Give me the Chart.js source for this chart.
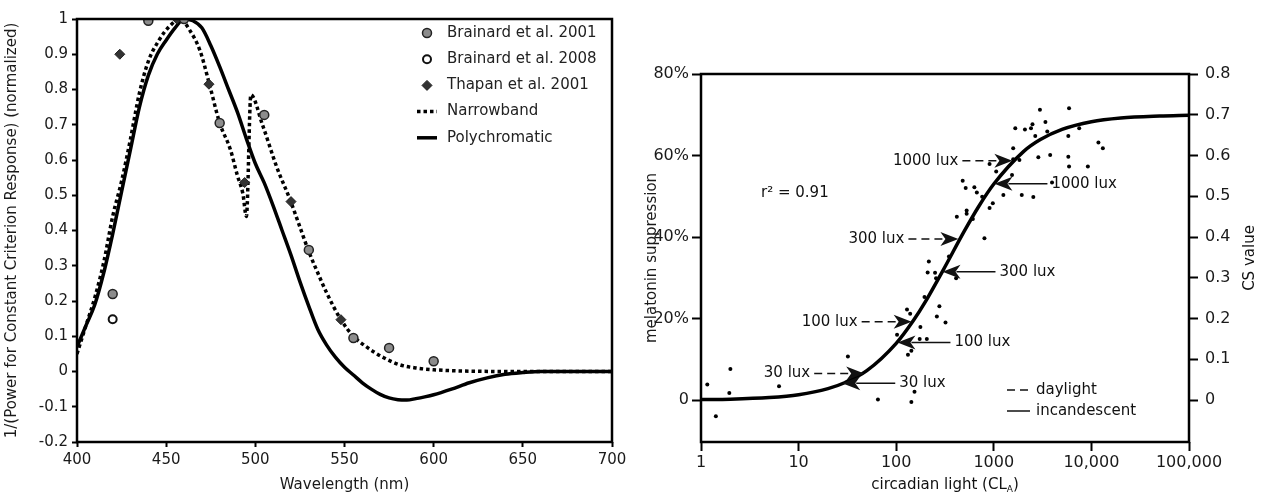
<!DOCTYPE html>
<html>
<head>
<meta charset="utf-8">
<script src="https://cdn.jsdelivr.net/npm/chart.js@4.4.0/dist/chart.umd.min.js"></script>
<style>
  body { margin: 0; background: #fff; width: 1264px; height: 494px; overflow: hidden; position: relative; }
  canvas { position: absolute; top: 0; }
  #left { left: 0; }
  #right { left: 632px; }
</style>
</head>
<body>
<canvas id="left" width="632" height="494"></canvas>
<canvas id="right" width="632" height="494"></canvas>
<script>
// ---------- left panel: action spectrum ----------
const wavelengthTicks = [400, 450, 500, 550, 600, 650, 700];

const polyWl = [400,405,410,415,420,425,430,435,440,445,450,455,460,465,470,475,480,485,490,495,500,505,510,515,520,525,530,535,540,545,550,555,560,565,570,575,580,585,590,595,600,610,620,630,640,650,660,680,700];
const polyVal = [0.07,0.13,0.19,0.28,0.39,0.51,0.63,0.75,0.84,0.90,0.94,0.975,1.0,0.995,0.975,0.925,0.865,0.80,0.735,0.66,0.59,0.535,0.47,0.40,0.33,0.255,0.185,0.12,0.075,0.04,0.012,-0.01,-0.032,-0.05,-0.065,-0.075,-0.08,-0.081,-0.077,-0.072,-0.066,-0.05,-0.032,-0.018,-0.008,-0.003,0,0,0];

const nbWl = [400,405,410,415,420,425,430,435,440,446,452,458,463,469,474,480,486,490,493,495,497.5,504,512,519.5,525,530,535,540,548,555,562,572,581,590,600,620,650,700];
const nbVal = [0.05,0.13,0.21,0.31,0.44,0.54,0.66,0.79,0.88,0.94,0.98,1.0,0.97,0.91,0.82,0.705,0.63,0.555,0.505,0.44,0.785,0.70,0.58,0.487,0.41,0.34,0.28,0.223,0.147,0.10,0.071,0.039,0.019,0.01,0.005,0.001,0,0];

const brainard01Wl = [420, 440, 460, 480, 505, 530, 555, 575, 600];
const brainard01Val = [0.22, 0.995, 1.0, 0.705, 0.728, 0.345, 0.095, 0.067, 0.029];
const brainard08Wl = [420];
const brainard08Val = [0.148];
const thapanWl = [424, 456, 474, 494, 520, 548];
const thapanVal = [0.90, 1.0, 0.815, 0.536, 0.482, 0.147];

// ---------- right panel: CS model ----------
const clTicks = [1, 10, 100, 1000, 10000, 100000];
const clTickLabels = ['1', '10', '100', '1000', '10,000', '100,000'];
const pctTicks = [0, 20, 40, 60, 80];
const csTicks = [0, 0.1, 0.2, 0.3, 0.4, 0.5, 0.6, 0.7, 0.8];

const fitCL = [1, 2, 5, 10, 20, 30, 50, 100, 150, 200, 300, 500, 700, 1000, 2000, 3000, 5000, 10000, 20000, 50000, 100000];
const fitPct = [0.1, 0.2, 0.6, 1.3, 2.8, 4.3, 7.2, 13.9, 19.5, 24.2, 31.7, 41.5, 47.5, 53.0, 60.9, 63.9, 66.4, 68.3, 69.2, 69.7, 69.9];

const obsCL = [1.16,2.0,1.95,1.42,6.3,32,65,143,154,132,143,174,206,102,177,320,261,277,129,139,195,210,250,216,256,411,347,802,418,527,527,610,905,977,480,515,632,670,760,905,1058,1537,1253,1935,2540,1580,1580,1830,2860,3780,2660,3530,3380,1660,2085,2405,2490,2970,5900,5800,5800,5900,9200,7500,3950,11800,13100];
const obsPct = [3.8,7.6,1.7,-4.0,3.4,10.7,0.1,-0.5,2.0,11.1,12.1,15,15,16,17.9,19,20.5,23,22.2,21.2,25.3,31.3,31.2,34,29.9,29.9,35.2,39.7,45,46.5,45.7,44.4,47.1,48.3,53.8,52,52.2,50.9,49.9,57.9,56.1,55.2,50.3,50.3,49.8,61.8,59.1,58.9,59.6,60.1,64.8,65.9,68.2,66.7,66.4,66.7,67.7,71.2,71.6,64.8,59.7,57.3,57.3,66.7,53.4,63.2,61.8];

const luxLabels = ['30 lux', '100 lux', '300 lux', '1000 lux'];
const dayTipCL = [47, 144, 434, 1550];
const dayTipPct = [6.5, 19.2, 39.5, 58.7];
const incTipCL = [28, 103, 298, 1015];
const incTipPct = [4.1, 14.1, 31.5, 53.1];

Chart.defaults.font.family = "'DejaVu Sans', Verdana, sans-serif";
Chart.defaults.color = '#1a1a1a';
Chart.defaults.animation = false;

const pts = (xs, ys) => xs.map((x, i) => ({ x: x, y: ys[i] }));
const fmt1 = v => (Math.abs(v) < 1e-9 ? '0' : String(Number(v.toFixed(1))));

const boxPlugin = {
    id: 'box',
    afterDraw(chart) {
        const { ctx, chartArea: a } = chart;
        ctx.save();
        ctx.strokeStyle = '#000';
        ctx.lineWidth = 2.5;
        ctx.strokeRect(a.left, a.top, a.right - a.left, a.bottom - a.top);
        ctx.restore();
    }
};

const leftLegend = {
    id: 'leftLegend',
    afterDraw(chart) {
        const { ctx, chartArea: a } = chart;
        const mx = a.right - 185, tx = a.right - 165;
        ctx.save();
        ctx.font = "15px 'DejaVu Sans'";
        ctx.textBaseline = 'middle';
        chart.data.datasets.forEach((ds, i) => {
            const y = a.top + 14 + i * 26.2;
            if (ds.showLine === false) {
                ctx.fillStyle = ds.pointBackgroundColor;
                ctx.strokeStyle = ds.pointBorderColor;
                ctx.lineWidth = ds.pointBorderWidth;
                Chart.helpers.drawPoint(ctx, { pointStyle: ds.pointStyle, radius: ds.pointRadius, rotation: 0, borderWidth: ds.pointBorderWidth }, mx, y);
            } else {
                ctx.strokeStyle = ds.borderColor;
                ctx.lineWidth = ds.borderWidth;
                ctx.setLineDash(ds.borderDash || []);
                ctx.beginPath();
                ctx.moveTo(mx - 10, y);
                ctx.lineTo(mx + 10, y);
                ctx.stroke();
                ctx.setLineDash([]);
            }
            ctx.fillStyle = '#222';
            ctx.fillText(ds.label, tx, y);
        });
        ctx.restore();
    }
};

new Chart(document.getElementById('left'), {
    type: 'line',
    data: {
        datasets: [
            { label: 'Brainard et al. 2001', data: pts(brainard01Wl, brainard01Val), showLine: false, pointStyle: 'circle', pointRadius: 4.5, pointBackgroundColor: '#8c8c8c', pointBorderColor: '#222', pointBorderWidth: 1.5 },
            { label: 'Brainard et al. 2008', data: pts(brainard08Wl, brainard08Val), showLine: false, pointStyle: 'circle', pointRadius: 4, pointBackgroundColor: '#fff', pointBorderColor: '#111', pointBorderWidth: 2 },
            { label: 'Thapan et al. 2001', data: pts(thapanWl, thapanVal), showLine: false, pointStyle: 'rectRot', pointRadius: 5, pointBackgroundColor: '#333', pointBorderColor: '#222', pointBorderWidth: 1 },
            { label: 'Narrowband', data: pts(nbWl, nbVal), borderColor: '#000', borderWidth: 3.5, borderDash: [3.5, 3], pointRadius: 0, cubicInterpolationMode: 'monotone' },
            { label: 'Polychromatic', data: pts(polyWl, polyVal), borderColor: '#000', borderWidth: 3.5, pointRadius: 0, cubicInterpolationMode: 'monotone' }
        ]
    },
    options: {
        responsive: false,
        devicePixelRatio: 1,
        layout: { padding: { top: 19, right: 20, left: 0, bottom: 0 } },
        plugins: { legend: { display: false }, tooltip: { enabled: false } },
        scales: {
            x: {
                type: 'linear', min: 400, max: 700,
                afterBuildTicks: s => { s.ticks = wavelengthTicks.map(v => ({ value: v })); },
                afterFit: s => { s.height = 52; },
                grid: { drawOnChartArea: false, tickLength: 5, tickWidth: 2, tickColor: '#000' },
                border: { display: false },
                ticks: { font: { size: 15 }, padding: 4, maxRotation: 0, autoSkip: false },
                title: { display: true, text: 'Wavelength (nm)', font: { size: 15 }, padding: { top: 0, bottom: 0 } }
            },
            y: {
                min: -0.2, max: 1,
                ticks: { stepSize: 0.1, font: { size: 15 }, padding: 4, autoSkip: false, callback: v => fmt1(v) },
                afterFit: s => { s.width = 77; },
                grid: { drawOnChartArea: false, tickLength: 5, tickWidth: 2, tickColor: '#000' },
                border: { display: false },
                title: { display: true, text: '1/(Power for Constant Criterion Response) (normalized)', font: { size: 15 }, padding: { top: 3, bottom: 0 } }
            }
        }
    },
    plugins: [boxPlugin, leftLegend]
});

function arrowHead(ctx, tx, ty, dir) {
    const L = 18, W = 7, N = 5;
    ctx.beginPath();
    ctx.moveTo(tx, ty);
    ctx.lineTo(tx - dir * L, ty - W);
    ctx.lineTo(tx - dir * (L - N), ty);
    ctx.lineTo(tx - dir * L, ty + W);
    ctx.closePath();
    ctx.fill();
}

const rightNotes = {
    id: 'rightNotes',
    afterDraw(chart) {
        const { ctx, chartArea: a } = chart;
        const sx = chart.scales.x, sy = chart.scales.y;
        ctx.save();
        ctx.fillStyle = '#111';
        ctx.strokeStyle = '#111';
        ctx.lineWidth = 1.5;
        ctx.font = "15px 'DejaVu Sans'";
        ctx.textBaseline = 'middle';
        luxLabels.forEach((lab, i) => {
            // daylight: dashed arrow from the left
            let px = sx.getPixelForValue(dayTipCL[i]), py = sy.getPixelForValue(dayTipPct[i]);
            arrowHead(ctx, px, py, 1);
            ctx.setLineDash([8, 5]);
            ctx.beginPath();
            ctx.moveTo(px - 16, py);
            ctx.lineTo(px - 50, py);
            ctx.stroke();
            ctx.setLineDash([]);
            ctx.textAlign = 'right';
            ctx.fillText(lab, px - 54, py);
            // incandescent: solid arrow from the right
            px = sx.getPixelForValue(incTipCL[i]);
            py = sy.getPixelForValue(incTipPct[i]);
            arrowHead(ctx, px, py, -1);
            ctx.beginPath();
            ctx.moveTo(px + 14, py);
            ctx.lineTo(px + 53, py);
            ctx.stroke();
            ctx.textAlign = 'left';
            ctx.fillText(lab, px + 57, py);
        });

        ctx.textAlign = 'left';
        ctx.fillText('r\u00b2 = 0.91', a.left + 60, a.top + 119);

        // key
        const kx = a.left + 306, k1 = a.top + 316, k2 = a.top + 337;
        ctx.setLineDash([8, 5]);
        ctx.beginPath(); ctx.moveTo(kx, k1); ctx.lineTo(kx + 23, k1); ctx.stroke();
        ctx.setLineDash([]);
        ctx.beginPath(); ctx.moveTo(kx, k2); ctx.lineTo(kx + 23, k2); ctx.stroke();
        ctx.fillText('daylight', kx + 29, k1);
        ctx.fillText('incandescent', kx + 29, k2);

        // x title with subscript
        const main = 'circadian light (CL', sub = 'A', close = ')';
        ctx.font = "15px 'DejaVu Sans'";
        const w1 = ctx.measureText(main).width, w3 = ctx.measureText(close).width;
        ctx.font = "9px 'DejaVu Sans'";
        const w2 = ctx.measureText(sub).width;
        let xx = (a.left + a.right) / 2 - (w1 + w2 + w3) / 2;
        const ty = 485;
        ctx.font = "15px 'DejaVu Sans'";
        ctx.fillText(main, xx, ty);
        ctx.font = "9px 'DejaVu Sans'";
        ctx.fillText(sub, xx + w1, ty + 5);
        ctx.font = "15px 'DejaVu Sans'";
        ctx.fillText(close, xx + w1 + w2, ty);

        // right axis title, reading upward
        ctx.translate(a.right + 61, (a.top + a.bottom) / 2);
        ctx.rotate(-Math.PI / 2);
        ctx.textAlign = 'center';
        ctx.fillText('CS value', 0, 0);
        ctx.restore();
    }
};

new Chart(document.getElementById('right'), {
    type: 'line',
    data: {
        datasets: [
            { label: 'observed', data: pts(obsCL, obsPct), showLine: false, pointRadius: 2, pointBackgroundColor: '#000', pointBorderWidth: 0 },
            { label: 'CS model', data: pts(fitCL, fitPct), borderColor: '#000', borderWidth: 3.5, pointRadius: 0, cubicInterpolationMode: 'monotone' }
        ]
    },
    options: {
        responsive: false,
        devicePixelRatio: 1,
        layout: { padding: { top: 74, right: 0, left: 0, bottom: 0 } },
        plugins: { legend: { display: false }, tooltip: { enabled: false } },
        scales: {
            x: {
                type: 'logarithmic', min: 1, max: 100000,
                afterBuildTicks: s => { s.ticks = clTicks.map(v => ({ value: v })); },
                afterFit: s => { s.height = 52; },
                grid: { drawOnChartArea: false, tickLength: 9, tickWidth: 2, tickColor: '#000' },
                border: { display: false },
                ticks: { font: { size: 16 }, padding: 2, maxRotation: 0, autoSkip: false, callback: (v, i) => clTickLabels[i] },
                title: { display: false }
            },
            y: {
                type: 'linear', position: 'left', min: -10.3, max: 80,
                afterBuildTicks: s => { s.ticks = pctTicks.map(v => ({ value: v })); },
                afterFit: s => { s.width = 69; },
                grid: { drawOnChartArea: false, tickLength: 9, tickWidth: 2, tickColor: '#000' },
                border: { display: false },
                ticks: { font: { size: 16 }, padding: 3, autoSkip: false, callback: v => (v === 0 ? '0' : v + '%') },
                title: { display: true, text: 'melatonin suppression', font: { size: 15 }, padding: { top: 11, bottom: 0 } }
            },
            y2: {
                type: 'linear', position: 'right', min: -0.103, max: 0.8,
                afterBuildTicks: s => { s.ticks = csTicks.map(v => ({ value: v })); },
                afterFit: s => { s.width = 75; },
                grid: { drawOnChartArea: false, tickLength: 9, tickWidth: 2, tickColor: '#000' },
                border: { display: false },
                ticks: { font: { size: 16 }, padding: 7, autoSkip: false, callback: v => fmt1(v) }
            }
        }
    },
    plugins: [boxPlugin, rightNotes]
});
</script>
</body>
</html>
